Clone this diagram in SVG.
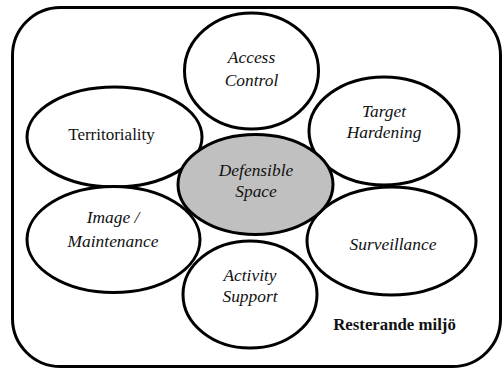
<svg xmlns="http://www.w3.org/2000/svg" width="504" height="370" viewBox="0 0 504 370">
<style>
.bg{fill:#ffffff}
.frame{fill:none;stroke:#000;stroke-width:3}
.node{fill:#ffffff;stroke:#000;stroke-width:3}
.center{fill:#c0c0c0;stroke:#000;stroke-width:3}
text{font-family:'Liberation Serif','DejaVu Serif',serif;font-size:17px;fill:#111;text-anchor:middle}
.it{font-style:italic;font-size:17.4px}
.b{font-weight:bold;font-size:16.8px}
</style>
<rect class="bg" x="0" y="0" width="504" height="370"/>
<g id="environment">
<rect class="frame" x="12.5" y="7.5" width="488" height="359" rx="48" ry="48"/>
<text class="b" x="394.5" y="330">Resterande miljö</text>
</g>
<g id="connectors"></g>
<g id="access-control">
<ellipse class="node" cx="251.5" cy="71" rx="67" ry="58"/>
<text class="it" x="251.5" y="63">Access</text>
<text class="it" x="251.5" y="86">Control</text>
</g>
<g id="target-hardening">
<ellipse class="node" cx="384" cy="131" rx="75" ry="54"/>
<text class="it" x="384" y="117">Target</text>
<text class="it" x="384" y="138">Hardening</text>
</g>
<g id="territoriality">
<ellipse class="node" cx="114.5" cy="137" rx="87.5" ry="50"/>
<text x="111.5" y="140">Territoriality</text>
</g>
<g id="surveillance">
<ellipse class="node" cx="391.5" cy="241" rx="84.5" ry="54"/>
<text class="it" x="393" y="250">Surveillance</text>
</g>
<g id="image-maintenance">
<ellipse class="node" cx="113.5" cy="239.5" rx="86.5" ry="53"/>
<text class="it" x="113" y="223">Image /</text>
<text class="it" x="113" y="247">Maintenance</text>
</g>
<g id="activity-support">
<ellipse class="node" cx="250" cy="294.5" rx="67" ry="53.5"/>
<text class="it" x="250" y="281">Activity</text>
<text class="it" x="250" y="302">Support</text>
</g>
<g id="defensible-space">
<ellipse class="center" cx="255.5" cy="184.5" rx="77.5" ry="50"/>
<text class="it" x="256" y="176">Defensible</text>
<text class="it" x="256" y="197">Space</text>
</g>
</svg>
